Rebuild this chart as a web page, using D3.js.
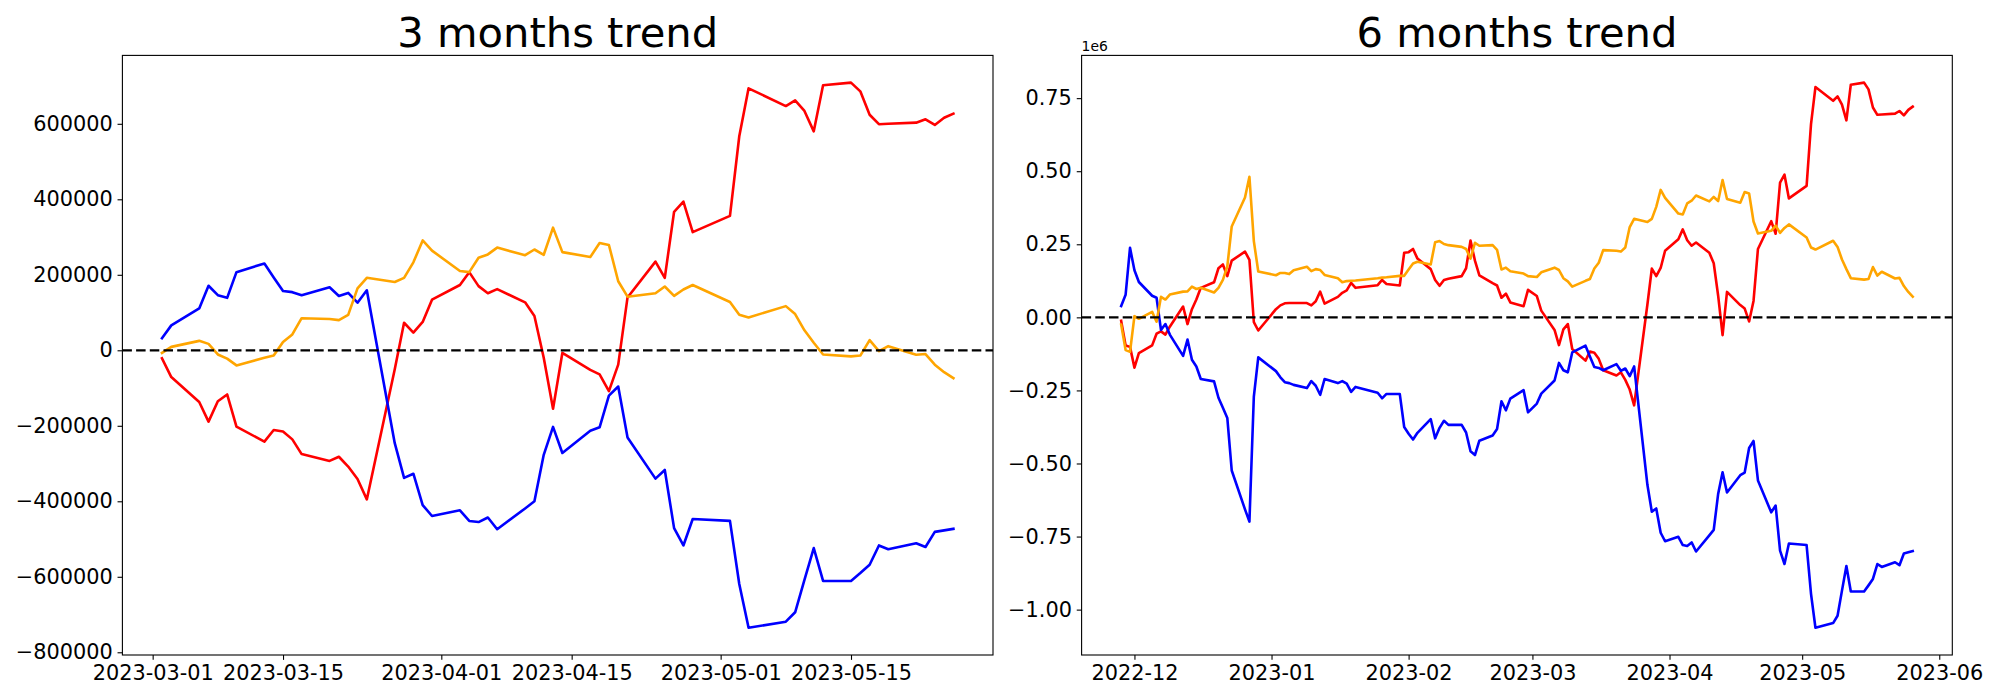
<!DOCTYPE html>
<html>
<head>
<meta charset="utf-8">
<script src="https://cdn.jsdelivr.net/npm/d3@7"></script>
<style>
  html, body { margin: 0; padding: 0; background: #ffffff; }
  svg { display: block; }
  text { font-family: "DejaVu Sans", sans-serif; fill: #000; }
</style>
</head>
<body>
<svg id="chart" width="2000" height="700"></svg>
<script>
// ---------------- DATA ----------------
// 3 months (trading days)
const dates3 = ["2023-03-02","2023-03-03","2023-03-06","2023-03-07","2023-03-08","2023-03-09","2023-03-10","2023-03-13","2023-03-14","2023-03-15","2023-03-16","2023-03-17","2023-03-20","2023-03-21","2023-03-22","2023-03-23","2023-03-24","2023-03-27","2023-03-28","2023-03-29","2023-03-30","2023-03-31",
"2023-04-03","2023-04-04","2023-04-05","2023-04-06","2023-04-07","2023-04-10","2023-04-11","2023-04-12","2023-04-13","2023-04-14","2023-04-17","2023-04-18","2023-04-19","2023-04-20","2023-04-21","2023-04-24","2023-04-25","2023-04-26","2023-04-27","2023-04-28",
"2023-05-02","2023-05-03","2023-05-04","2023-05-08","2023-05-09","2023-05-10","2023-05-11","2023-05-12","2023-05-15","2023-05-16","2023-05-17","2023-05-18","2023-05-19","2023-05-22","2023-05-23","2023-05-24","2023-05-25","2023-05-26"];

const red3 = [-21000,-71000,-137000,-189000,-135000,-117000,-202000,-242000,-211000,-215000,-236000,-275000,-293000,-282000,-308000,-341000,-395000,-50000,73000,47000,75000,134000,
173000,207000,170000,151000,162000,127000,91000,-20000,-155000,-7000,-52000,-64000,-108000,-38000,140000,235000,192000,367000,394000,313000,
356000,567000,694000,647000,662000,634000,580000,702000,709000,686000,624000,599000,600000,603000,612000,597000,616000,627000];

const blue3 = [32000,66000,111000,171000,146000,139000,207000,230000,193000,157000,154000,146000,167000,144000,152000,126000,159000,-246000,-338000,-327000,-410000,-439000,
-424000,-452000,-455000,-443000,-474000,-419000,-400000,-277000,-203000,-272000,-213000,-204000,-120000,-96000,-231000,-340000,-317000,-471000,-517000,-447000,
-452000,-619000,-735000,-719000,-694000,-608000,-524000,-611000,-611000,-590000,-568000,-517000,-527000,-511000,-521000,-481000,-477000,-473000];

const orange3 = [-7000,9000,25000,17000,-11000,-22000,-40000,-20000,-14000,22000,42000,85000,83000,80000,94000,164000,192000,181000,192000,233000,291000,264000,
210000,207000,245000,254000,272000,252000,267000,253000,325000,260000,247000,284000,279000,183000,142000,151000,169000,144000,161000,173000,
128000,94000,87000,117000,96000,53000,20000,-11000,-16000,-14000,27000,-2000,11000,-12000,-10000,-38000,-58000,-74000];

// 6 months (trading days)
const dates6 = ["2022-11-28","2022-11-29","2022-11-30","2022-12-01","2022-12-02","2022-12-05","2022-12-06","2022-12-07","2022-12-08","2022-12-09","2022-12-12","2022-12-13","2022-12-14","2022-12-15","2022-12-16","2022-12-19","2022-12-20","2022-12-21","2022-12-22","2022-12-23","2022-12-26","2022-12-27","2022-12-28","2022-12-29",
"2023-01-02","2023-01-03","2023-01-04","2023-01-05","2023-01-06","2023-01-09","2023-01-10","2023-01-11","2023-01-12","2023-01-13","2023-01-16","2023-01-17","2023-01-18","2023-01-19","2023-01-20","2023-01-25","2023-01-26","2023-01-27","2023-01-30","2023-01-31",
"2023-02-01","2023-02-02","2023-02-03","2023-02-06","2023-02-07","2023-02-08","2023-02-09","2023-02-10","2023-02-13","2023-02-14","2023-02-15","2023-02-16","2023-02-17","2023-02-20","2023-02-21","2023-02-22","2023-02-23","2023-02-24","2023-02-27","2023-02-28",
"2023-03-02","2023-03-03","2023-03-06","2023-03-07","2023-03-08","2023-03-09","2023-03-10","2023-03-13","2023-03-14","2023-03-15","2023-03-16","2023-03-17","2023-03-20","2023-03-21","2023-03-22","2023-03-23","2023-03-24","2023-03-27","2023-03-28","2023-03-29","2023-03-30","2023-03-31",
"2023-04-03","2023-04-04","2023-04-05","2023-04-06","2023-04-07","2023-04-10","2023-04-11","2023-04-12","2023-04-13","2023-04-14","2023-04-17","2023-04-18","2023-04-19","2023-04-20","2023-04-21","2023-04-24","2023-04-25","2023-04-26","2023-04-27","2023-04-28",
"2023-05-02","2023-05-03","2023-05-04","2023-05-08","2023-05-09","2023-05-10","2023-05-11","2023-05-12","2023-05-15","2023-05-16","2023-05-17","2023-05-18","2023-05-19","2023-05-22","2023-05-23","2023-05-24","2023-05-25","2023-05-26"];

const red6 = [-12000,-96000,-101000,-172000,-122000,-96000,-56000,-48000,-59000,-32000,37000,-23000,28000,61000,101000,120000,168000,181000,141000,194000,225000,197000,-16000,-45000,
28000,41000,48000,49000,49000,49000,41000,55000,88000,47000,70000,84000,92000,118000,101000,110000,128000,114000,109000,221000,
223000,234000,201000,165000,128000,108000,128000,132000,141000,168000,263000,194000,144000,117000,109000,67000,81000,51000,38000,94000,
73000,23000,-43000,-95000,-41000,-23000,-108000,-148000,-117000,-121000,-142000,-181000,-199000,-188000,-214000,-247000,-301000,44000,167000,141000,169000,228000,
267000,301000,264000,245000,256000,221000,185000,74000,-61000,87000,42000,30000,-14000,56000,234000,329000,286000,461000,488000,407000,
450000,661000,788000,741000,756000,728000,674000,796000,803000,780000,718000,693000,694000,697000,706000,691000,710000,721000];

const blue6 = [39000,77000,238000,161000,121000,74000,67000,-43000,-23000,-59000,-132000,-76000,-145000,-168000,-211000,-219000,-275000,-309000,-344000,-524000,-657000,-699000,-271000,-137000,
-184000,-205000,-222000,-225000,-231000,-242000,-218000,-234000,-265000,-211000,-225000,-218000,-227000,-255000,-238000,-258000,-277000,-262000,-262000,-375000,
-398000,-418000,-395000,-348000,-414000,-378000,-354000,-368000,-368000,-394000,-458000,-471000,-422000,-404000,-382000,-287000,-318000,-278000,-249000,-325000,
-295000,-261000,-216000,-156000,-181000,-188000,-120000,-97000,-134000,-170000,-173000,-181000,-160000,-183000,-175000,-201000,-168000,-573000,-665000,-654000,-737000,-766000,
-751000,-779000,-782000,-770000,-801000,-746000,-727000,-604000,-530000,-599000,-540000,-531000,-447000,-423000,-558000,-667000,-644000,-798000,-844000,-774000,
-779000,-946000,-1062000,-1046000,-1021000,-935000,-851000,-938000,-938000,-917000,-895000,-844000,-854000,-838000,-848000,-808000,-804000,-800000];

const orange6 = [-25000,-112000,-118000,4000,-5000,19000,-15000,70000,61000,78000,88000,89000,105000,97000,101000,85000,101000,128000,174000,311000,410000,481000,261000,157000,
144000,152000,152000,148000,161000,173000,158000,165000,162000,145000,134000,120000,124000,125000,126000,134000,136000,137000,142000,142000,
164000,184000,190000,181000,257000,261000,251000,247000,241000,234000,201000,255000,245000,247000,231000,164000,170000,158000,150000,141000,
138000,154000,170000,162000,134000,123000,105000,125000,131000,167000,187000,230000,228000,225000,239000,309000,337000,326000,337000,378000,436000,409000,
355000,352000,390000,399000,417000,397000,412000,398000,470000,405000,392000,429000,424000,328000,287000,296000,314000,289000,306000,318000,
273000,239000,232000,262000,241000,198000,165000,134000,129000,131000,172000,143000,156000,133000,135000,107000,87000,71000];

const seriesColors = ["#ff0000", "#0000ff", "#ffa500"];

const titles = ["3 months trend", "6 months trend"];
const yTicks3 = [-800000,-600000,-400000,-200000,0,200000,400000,600000];
const xTicks3 = ["2023-03-01","2023-03-15","2023-04-01","2023-04-15","2023-05-01","2023-05-15"];
const yTicks6 = [-1000000,-750000,-500000,-250000,0,250000,500000,750000];
const xTicks6 = ["2022-12-01","2023-01-01","2023-02-01","2023-03-01","2023-04-01","2023-05-01","2023-06-01"];
const offsetLabel6 = "1e6";

// ---------------- DRAW ----------------
const parse = d3.utcParse("%Y-%m-%d");
const svg = d3.select("#chart");
svg.append("rect").attr("width", 2000).attr("height", 700).attr("fill", "#fff");

const TICK = 4.86, PAD = 4.86, TICKFONT = 20.83;

const panels = [
  { title: titles[0], box: {l: 122.4, r: 993.0, t: 55.4, b: 655}, dates: dates3,
    series: [red3, blue3, orange3], yTicks: yTicks3, xTicks: xTicks3,
    yFmt: d3.format("d"), xFmt: d3.utcFormat("%Y-%m-%d"), offset: null },
  { title: titles[1], box: {l: 1081.6, r: 1952.3, t: 55.4, b: 655}, dates: dates6,
    series: [red6, blue6, orange6], yTicks: yTicks6, xTicks: xTicks6,
    yFmt: v => d3.format(".2f")(v / 1e6), xFmt: d3.utcFormat("%Y-%m"), offset: offsetLabel6 }
];

panels.forEach(p => {
  const dts = p.dates.map(parse);
  const [d0, d1] = d3.extent(dts);
  const span = d1 - d0;
  const x = d3.scaleUtc()
    .domain([new Date(+d0 - 0.05 * span), new Date(+d1 + 0.05 * span)])
    .range([p.box.l, p.box.r]);
  const allVals = p.series.flat();
  const [v0, v1] = d3.extent(allVals);
  const vr = v1 - v0;
  const y = d3.scaleLinear()
    .domain([v0 - 0.05 * vr, v1 + 0.05 * vr])
    .range([p.box.b, p.box.t]);

  const g = svg.append("g");

  // lines
  p.series.forEach((vals, i) => {
    const line = d3.line().x((d, k) => x(dts[k])).y(d => y(d));
    g.append("path")
      .datum(vals)
      .attr("d", line)
      .attr("fill", "none")
      .attr("stroke", seriesColors[i])
      .attr("stroke-width", 2.6)
      .attr("stroke-linejoin", "round")
      .attr("stroke-linecap", "square");
  });

  // zero dashed line
  g.append("line")
    .attr("x1", p.box.l).attr("x2", p.box.r)
    .attr("y1", y(0)).attr("y2", y(0))
    .attr("stroke", "#000").attr("stroke-width", 2.2)
    .attr("stroke-dasharray", "9.5,4.2");

  // frame
  g.append("rect")
    .attr("x", p.box.l).attr("y", p.box.t)
    .attr("width", p.box.r - p.box.l).attr("height", p.box.b - p.box.t)
    .attr("fill", "none").attr("stroke", "#000").attr("stroke-width", 1.1);

  // axes
  const yAxis = d3.axisLeft(y).tickValues(p.yTicks).tickFormat(p.yFmt)
    .tickSize(TICK).tickPadding(PAD);
  const ya = g.append("g").attr("transform", `translate(${p.box.l},0)`).call(yAxis);
  const xAxis = d3.axisBottom(x).tickValues(p.xTicks.map(parse)).tickFormat(p.xFmt)
    .tickSize(TICK).tickPadding(PAD);
  const xa = g.append("g").attr("transform", `translate(0,${p.box.b})`).call(xAxis);
  [ya, xa].forEach(a => {
    a.select(".domain").remove();
    a.selectAll(".tick line").attr("stroke", "#000").attr("stroke-width", 1.1);
    a.selectAll(".tick text")
      .attr("fill", "#000")
      .style("font-family", "'DejaVu Sans', sans-serif")
      .style("font-size", TICKFONT + "px");
  });

  // title
  g.append("text")
    .attr("x", (p.box.l + p.box.r) / 2)
    .attr("y", p.box.t - 8.5)
    .attr("text-anchor", "middle")
    .style("font-size", "41.67px")
    .text(p.title);

  if (p.offset) {
    g.append("text")
      .attr("x", p.box.l)
      .attr("y", p.box.t - 4.5)
      .attr("text-anchor", "start")
      .style("font-size", "13.9px")
      .text(p.offset);
  }
});
</script>
</body>
</html>
